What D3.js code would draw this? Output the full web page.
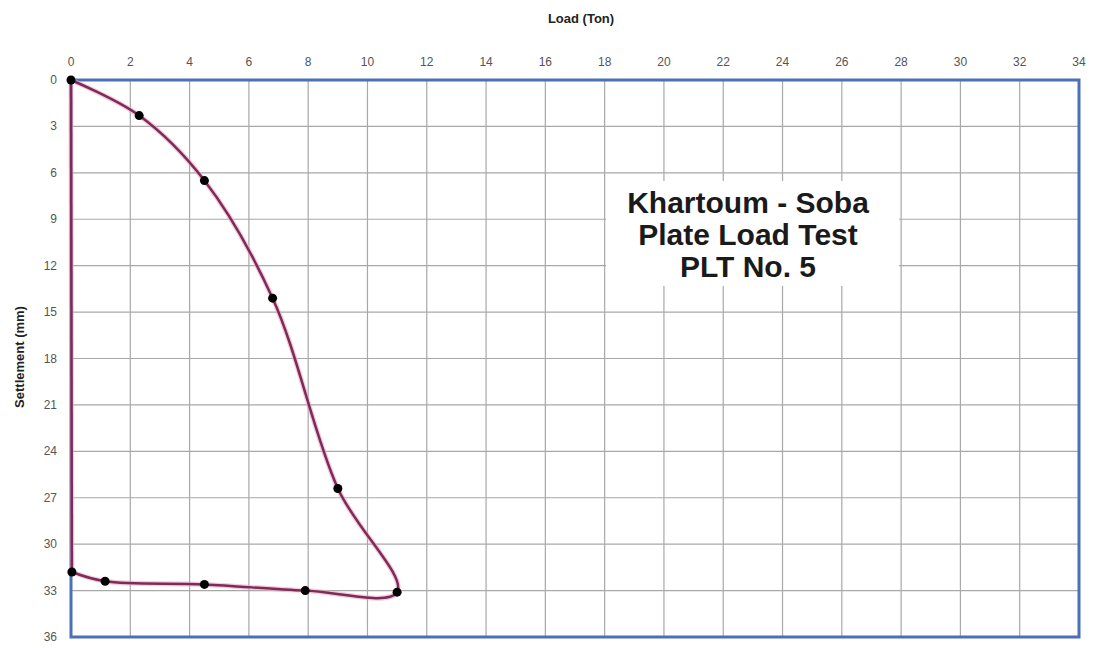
<!DOCTYPE html>
<html>
<head>
<meta charset="utf-8">
<style>
  body { margin: 0; background: #fff; }
  text { font-family: "Liberation Sans", Arial, sans-serif; }
</style>
<script src="https://cdn.jsdelivr.net/npm/d3@7"></script>
</head>
<body>
<svg id="chart" width="1094" height="648"></svg>
<script>
    // load (ton) vs settlement (mm)
    var load = [0, 2.3, 4.5, 6.8, 9.0, 11.0, 7.9, 4.5, 1.15, 0.03];
    var settlement = [0, 2.3, 6.5, 14.1, 26.4, 33.1, 33.0, 32.6, 32.4, 31.8];
    var xTicks = d3.range(0, 35, 2);
    var yTicks = d3.range(0, 37, 3);
    var titleLines = ["Khartoum - Soba", "Plate Load Test", "PLT No. 5"];

    var svg = d3.select("#chart");
    var plotLeft = 71, plotRight = 1079, plotTop = 80, plotBottom = 637;

    var x = d3.scaleLinear().domain([0, 34]).range([plotLeft, plotRight]);
    var y = d3.scaleLinear().domain([0, 36]).range([plotTop, plotBottom]);

    // grid
    var g = svg.append("g");
    g.selectAll("line.vx")
        .data(xTicks)
        .enter()
        .append("line")
        .attr("class", "vx")
        .attr("x1", d => x(d)).attr("x2", d => x(d))
        .attr("y1", plotTop).attr("y2", plotBottom)
        .attr("stroke", "#a8a8a8")
        .attr("stroke-width", 1.2);
    g.selectAll("line.hy")
        .data(yTicks)
        .enter()
        .append("line")
        .attr("class", "hy")
        .attr("x1", plotLeft).attr("x2", plotRight)
        .attr("y1", d => y(d)).attr("y2", d => y(d))
        .attr("stroke", "#a8a8a8")
        .attr("stroke-width", 1.2);

    // tick labels
    g.selectAll("text.xt")
        .data(xTicks)
        .enter()
        .append("text")
        .attr("class", "xt")
        .text(d => d)
        .attr("x", d => x(d))
        .attr("y", 66)
        .attr("text-anchor", "middle")
        .attr("fill", "#555")
        .style("font-size", "12px");
    g.selectAll("text.yt")
        .data(yTicks)
        .enter()
        .append("text")
        .attr("class", "yt")
        .text(d => d)
        .attr("x", 57)
        .attr("y", d => y(d) + 4)
        .attr("text-anchor", "end")
        .attr("fill", "#555")
        .style("font-size", "12px");

    // title box
    svg.append("rect")
        .attr("x", 606).attr("y", 181)
        .attr("width", 293).attr("height", 105)
        .attr("fill", "#fff");
    svg.append("g").selectAll("text")
        .data(titleLines)
        .enter()
        .append("text")
        .text(d => d)
        .attr("x", 748)
        .attr("y", (d, i) => 213 + i * 32)
        .attr("text-anchor", "middle")
        .attr("fill", "#1a1a1a")
        .style("font-size", "30px")
        .style("font-weight", "bold");

    // plot border
    svg.append("rect")
        .attr("x", plotLeft).attr("y", plotTop)
        .attr("width", plotRight - plotLeft).attr("height", plotBottom - plotTop)
        .attr("fill", "none")
        .attr("stroke", "#4a70b8")
        .attr("stroke-width", 3);

    // curve: smoothed through the points, then a straight return to the start
    var pts = load.map((d, i) => [d, settlement[i]]);
    var smooth = d3.line()
        .x(d => x(d[0]))
        .y(d => y(d[1]))
        .curve(d3.curveCatmullRom.alpha(0.5));
    var straight = d3.line()
        .x(d => x(d[0]))
        .y(d => y(d[1]));
    var closing = [pts[pts.length - 1], pts[0]];

    [["#e9a8c4", 5, 0.6], ["#7e2b58", 2.5, 1]].forEach(function (s) {
        svg.append("path")
            .datum(pts)
            .attr("d", smooth)
            .attr("fill", "none")
            .attr("stroke", s[0])
            .attr("stroke-width", s[1])
            .attr("opacity", s[2]);
        svg.append("path")
            .datum(closing)
            .attr("d", straight)
            .attr("fill", "none")
            .attr("stroke", s[0])
            .attr("stroke-width", s[1])
            .attr("opacity", s[2]);
    });

    svg.selectAll("circle")
        .data(pts)
        .enter()
        .append("circle")
        .attr("cx", d => x(d[0]))
        .attr("cy", d => y(d[1]))
        .attr("r", 4.5)
        .attr("fill", "#000");

    // axis titles
    svg.append("text")
        .text("Load (Ton)")
        .attr("x", 581).attr("y", 23)
        .attr("text-anchor", "middle")
        .attr("fill", "#222")
        .style("font-size", "13px")
        .style("font-weight", "bold");
    svg.append("text")
        .text("Settlement (mm)")
        .attr("transform", "translate(24,357) rotate(-90)")
        .attr("text-anchor", "middle")
        .attr("fill", "#222")
        .style("font-size", "13px")
        .style("font-weight", "bold");
</script>
</body>
</html>
